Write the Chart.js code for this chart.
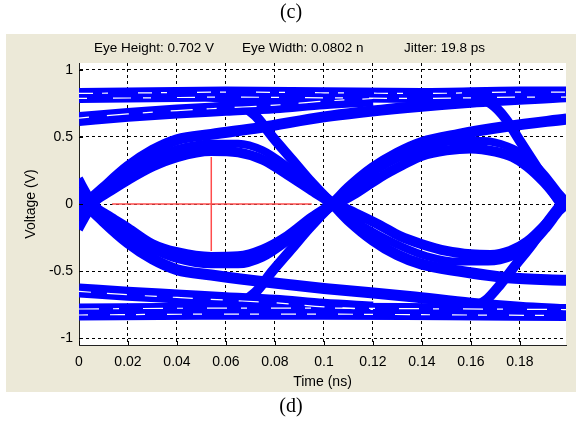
<!DOCTYPE html>
<html>
<head>
<meta charset="utf-8">
<script src="https://cdn.jsdelivr.net/npm/chart.js@4.4.1/dist/chart.umd.min.js"></script>
<style>
  html, body { margin: 0; padding: 0; background: #fff; }
  #wrap { position: relative; width: 576px; height: 424px; overflow: hidden; }
  #eye { position: absolute; left: 0; top: 0; }
  .cap { position: absolute; left: 0; width: 582px; text-align: center; font-family: 'Liberation Serif', 'Times New Roman', serif; font-size: 20px; color: #000; }
  .hdr { position: absolute; top: 40px; font-family: 'Liberation Sans', Arial, sans-serif; font-size: 13.5px; color: #000; white-space: nowrap; }
</style>
</head>
<body>
<div id="wrap">
  <canvas id="eye" width="576" height="424"></canvas>
  <div class="cap" style="top:0px">(c)</div>
  <div class="hdr" style="left:94px">Eye Height: 0.702 V</div>
  <div class="hdr" style="left:242px">Eye Width: 0.0802 n</div>
  <div class="hdr" style="left:404px">Jitter: 19.8 ps</div>
  <div class="cap" style="top:394px">(d)</div>
</div>
<script>
/* ── axis ticks ── */
const xTicks = [0, 0.02, 0.04, 0.06, 0.08, 0.1, 0.12, 0.14, 0.16, 0.18];
const yTicks = [-1, -0.5, 0, 0.5, 1];

/* ── eye traces, [time ns, voltage V] ── */
// steady levels
const highTop = [[0, 0.81], [0.03, 0.815], [0.06, 0.82], [0.1, 0.815], [0.14, 0.81], [0.18, 0.82], [0.199, 0.82]];
const lowBottom = [[0, -0.806], [0.05, -0.80], [0.1, -0.80], [0.15, -0.805], [0.199, -0.81]];
const highSecond = [[0, 0.634], [0.02, 0.665], [0.04, 0.69], [0.06, 0.71], [0.08, 0.73], [0.1, 0.76], [0.12, 0.78]];
const lowSecond = [[0, -0.645], [0.02, -0.67], [0.04, -0.69], [0.06, -0.71], [0.08, -0.73], [0.1, -0.76], [0.12, -0.78]];

// first bit: rising traces
const riseStay1 = [[0, -0.08], [0.003, 0], [0.01, 0.12], [0.02, 0.28], [0.03, 0.4], [0.04, 0.48], [0.054, 0.52], [0.074, 0.57], [0.1, 0.65], [0.134, 0.72], [0.16, 0.76], [0.199, 0.80]];
const riseMid1 = [[0, -0.1], [0.004, 0], [0.012, 0.14], [0.02, 0.25], [0.03, 0.34], [0.04, 0.41], [0.054, 0.45], [0.065, 0.45], [0.075, 0.4], [0.085, 0.28], [0.095, 0.13], [0.104, 0], [0.11, -0.08]];
const riseBack1 = [[0, -0.12], [0.005, 0], [0.013, 0.1], [0.02, 0.18], [0.03, 0.28], [0.04, 0.35], [0.054, 0.395], [0.065, 0.385], [0.075, 0.33], [0.085, 0.22], [0.095, 0.1], [0.1035, 0], [0.11, -0.08]];
// first bit: falling traces
const fallStay1 = [[0, 0.08], [0.003, 0], [0.01, -0.13], [0.02, -0.29], [0.03, -0.41], [0.04, -0.49], [0.054, -0.53], [0.066, -0.56], [0.1, -0.63], [0.135, -0.69], [0.16, -0.74], [0.18, -0.77], [0.199, -0.79]];
const fallMid1 = [[0, 0.1], [0.004, 0], [0.012, -0.14], [0.02, -0.25], [0.03, -0.34], [0.04, -0.41], [0.054, -0.45], [0.065, -0.45], [0.075, -0.4], [0.085, -0.28], [0.095, -0.13], [0.104, 0], [0.11, 0.08]];
const fallBack1 = [[0, 0.12], [0.005, 0], [0.013, -0.1], [0.02, -0.18], [0.03, -0.3], [0.04, -0.36], [0.054, -0.395], [0.065, -0.39], [0.075, -0.34], [0.085, -0.24], [0.095, -0.1], [0.1035, 0], [0.11, 0.08]];
// steep edges into the middle crossing
const steepFall1 = [[0.05, 0.81], [0.058, 0.79], [0.065, 0.75], [0.072, 0.66], [0.079, 0.5], [0.087, 0.33], [0.094, 0.18], [0.1035, 0], [0.112, -0.14], [0.12, -0.25]];
const steepRise1 = [[0.05, -0.80], [0.058, -0.79], [0.065, -0.75], [0.072, -0.66], [0.079, -0.5], [0.087, -0.33], [0.094, -0.18], [0.1035, 0], [0.112, 0.14], [0.12, 0.25]];
// incoming edges at the left border
const edgeFall0 = [[0, 0.19], [0.004, 0.06], [0.01, -0.08], [0.018, -0.2]];
const edgeRise0 = [[0, -0.19], [0.004, -0.06], [0.01, 0.08], [0.018, 0.2]];

// second bit: rising traces
const riseStay2 = [[0.098, -0.08], [0.1035, 0], [0.11, 0.12], [0.12, 0.27], [0.13, 0.38], [0.14, 0.46], [0.155, 0.52], [0.175, 0.58], [0.199, 0.634]];
const riseMid2 = [[0.1, -0.06], [0.104, 0], [0.112, 0.13], [0.122, 0.26], [0.132, 0.36], [0.142, 0.43], [0.155, 0.47], [0.165, 0.47], [0.175, 0.43], [0.183, 0.35], [0.19, 0.22], [0.196, 0.08], [0.199, 0.02]];
const riseBack2 = [[0.1, -0.04], [0.105, 0], [0.113, 0.08], [0.123, 0.2], [0.132, 0.29], [0.14, 0.36], [0.15, 0.4], [0.16, 0.415], [0.17, 0.39], [0.177, 0.35], [0.183, 0.28], [0.19, 0.16], [0.196, 0.03], [0.199, -0.03]];
// second bit: falling traces
const fallStay2 = [[0.098, 0.08], [0.1035, 0], [0.11, -0.12], [0.12, -0.27], [0.13, -0.38], [0.14, -0.45], [0.155, -0.5], [0.175, -0.55], [0.199, -0.57]];
const fallMid2 = [[0.1, 0.06], [0.104, 0], [0.112, -0.12], [0.122, -0.23], [0.132, -0.32], [0.142, -0.39], [0.155, -0.43], [0.167, -0.43], [0.177, -0.39], [0.185, -0.3], [0.191, -0.18], [0.196, -0.06], [0.199, 0]];
const fallBack2 = [[0.1, 0.04], [0.105, 0], [0.113, -0.07], [0.123, -0.16], [0.131, -0.24], [0.14, -0.3], [0.15, -0.35], [0.16, -0.375], [0.168, -0.38], [0.176, -0.35], [0.183, -0.28], [0.19, -0.16], [0.196, -0.04], [0.199, 0.02]];
// steep edges into the right crossing
const steepFall2 = [[0.15, 0.81], [0.162, 0.79], [0.168, 0.75], [0.174, 0.64], [0.18, 0.47], [0.186, 0.3], [0.192, 0.13], [0.196, 0.02], [0.199, -0.05]];
const steepRise2 = [[0.15, -0.80], [0.16, -0.78], [0.166, -0.72], [0.172, -0.6], [0.178, -0.46], [0.185, -0.3], [0.191, -0.14], [0.196, -0.02], [0.199, 0.05]];

/* ── eye opening markers ── */
const eyeWidthLine = [[0.0135, 0], [0.095, 0]];
const eyeHeightLine = [[0.054, 0.351], [0.054, -0.351]];

const BLUE = '#0000ff';

function trace(points, width) {
  return {
    data: points.map(p => ({ x: p[0], y: p[1] })),
    borderColor: BLUE,
    borderWidth: width,
    pointRadius: 0,
    cubicInterpolationMode: 'monotone',
    borderCapStyle: 'butt',
    borderJoinStyle: 'round',
    fill: false,
    clip: 0,
    order: 3
  };
}

// thin broken white streak inside a band (shiftY in px)
function streak(points, shiftY, dash) {
  return {
    data: points.map(p => ({ x: p[0], y: p[1] })),
    borderColor: '#ffffff',
    borderWidth: 1.2,
    borderDash: dash,
    pointRadius: 0,
    cubicInterpolationMode: 'monotone',
    fill: false,
    clip: 0,
    order: 2,
    shiftY: shiftY
  };
}

function marker(points) {
  return {
    data: points.map(p => ({ x: p[0], y: p[1] })),
    borderColor: '#ff4d4d',
    borderWidth: 1.5,
    pointRadius: 0,
    tension: 0,
    fill: false,
    clip: 0,
    order: 1
  };
}

const datasets = [
  trace(highTop, 15), trace(lowBottom, 17),
  trace(highSecond, 14), trace(lowSecond, 14),
  trace(riseStay1, 11), trace(riseMid1, 8), trace(riseBack1, 10),
  trace(fallStay1, 11), trace(fallMid1, 8), trace(fallBack1, 10),
  trace(steepFall1, 10), trace(steepRise1, 10),
  trace(edgeFall0, 8), trace(edgeRise0, 8),
  trace(riseStay2, 11), trace(riseMid2, 8), trace(riseBack2, 10),
  trace(fallStay2, 11), trace(fallMid2, 8), trace(fallBack2, 10),
  trace(steepFall2, 10), trace(steepRise2, 10),
  streak(highTop, -2, [14, 9, 6, 30]),
  streak(highTop, 3, [8, 26, 18, 12]),
  streak(highSecond, -1, [10, 18, 22, 14]),
  streak(lowBottom, -3, [20, 14, 6, 24]),
  streak(lowBottom, 3, [9, 22, 15, 11]),
  streak(lowSecond, 1, [12, 16, 20, 18]),
  marker(eyeWidthLine), marker(eyeHeightLine)
];

/* ── panel background, streak offsets, inside tick marks ── */
const panelPlugin = {
  id: 'panelPlugin',
  beforeDraw(chart) {
    const { ctx, chartArea: a } = chart;
    ctx.save();
    ctx.fillStyle = '#ece9d8';
    ctx.fillRect(6, 34, 570, 358);
    ctx.fillStyle = '#ffffff';
    ctx.fillRect(a.left, a.top, a.right - a.left, a.bottom - a.top);
    ctx.restore();
  },
  beforeDatasetDraw(chart, args) {
    const ds = chart.data.datasets[args.index];
    if (ds.shiftY) {
      chart.ctx.save();
      chart.ctx.translate(0, ds.shiftY);
    }
  },
  afterDatasetDraw(chart, args) {
    const ds = chart.data.datasets[args.index];
    if (ds.shiftY) chart.ctx.restore();
  },
  afterDatasetsDraw(chart) {
    const { ctx, chartArea: a, scales } = chart;
    ctx.save();
    ctx.strokeStyle = '#000';
    ctx.lineWidth = 1;
    ctx.beginPath();
    xTicks.forEach(v => {
      const px = Math.round(scales.x.getPixelForValue(v)) + 0.5;
      ctx.moveTo(px, a.bottom);
      ctx.lineTo(px, a.bottom - 4);
    });
    yTicks.forEach(v => {
      const py = Math.round(scales.y.getPixelForValue(v)) + 0.5;
      ctx.moveTo(a.left, py);
      ctx.lineTo(a.left + 4, py);
    });
    ctx.stroke();
    ctx.restore();
  }
};

const tickFont = { family: "'Liberation Sans', Arial, sans-serif", size: 14 };

new Chart(document.getElementById('eye'), {
  type: 'line',
  data: { datasets },
  plugins: [panelPlugin],
  options: {
    responsive: false,
    animation: false,
    layout: { padding: { left: 0, top: 63, right: 10, bottom: 0 } },
    plugins: { legend: { display: false }, tooltip: { enabled: false } },
    scales: {
      x: {
        type: 'linear',
        min: 0,
        max: 0.1988,
        afterFit: s => { s.height = 79; },
        afterBuildTicks: s => { s.ticks = xTicks.map(v => ({ value: v })); },
        ticks: {
          color: '#000', font: tickFont, padding: 9, autoSkip: false, maxRotation: 0,
          callback: v => String(+Number(v).toFixed(2))
        },
        grid: { color: '#000', lineWidth: 1, drawTicks: false },
        border: { display: true, color: '#222', width: 1, dash: [3, 3] },
        title: { display: true, text: 'Time (ns)', color: '#000', font: tickFont, padding: { top: 0, bottom: 33 } }
      },
      y: {
        type: 'linear',
        min: -1.0522,
        max: 1.0522,
        afterFit: s => { s.width = 79; },
        afterBuildTicks: s => { s.ticks = yTicks.map(v => ({ value: v })); },
        ticks: {
          color: '#000', font: tickFont, padding: 6, autoSkip: false,
          callback: v => String(+Number(v).toFixed(2))
        },
        grid: { color: '#000', lineWidth: 1, drawTicks: false },
        border: { display: true, color: '#222', width: 1, dash: [3, 3] },
        title: { display: true, text: 'Voltage (V)', color: '#000', font: tickFont, padding: { top: 23, bottom: 0 } }
      }
    }
  }
});
</script>
</body>
</html>
